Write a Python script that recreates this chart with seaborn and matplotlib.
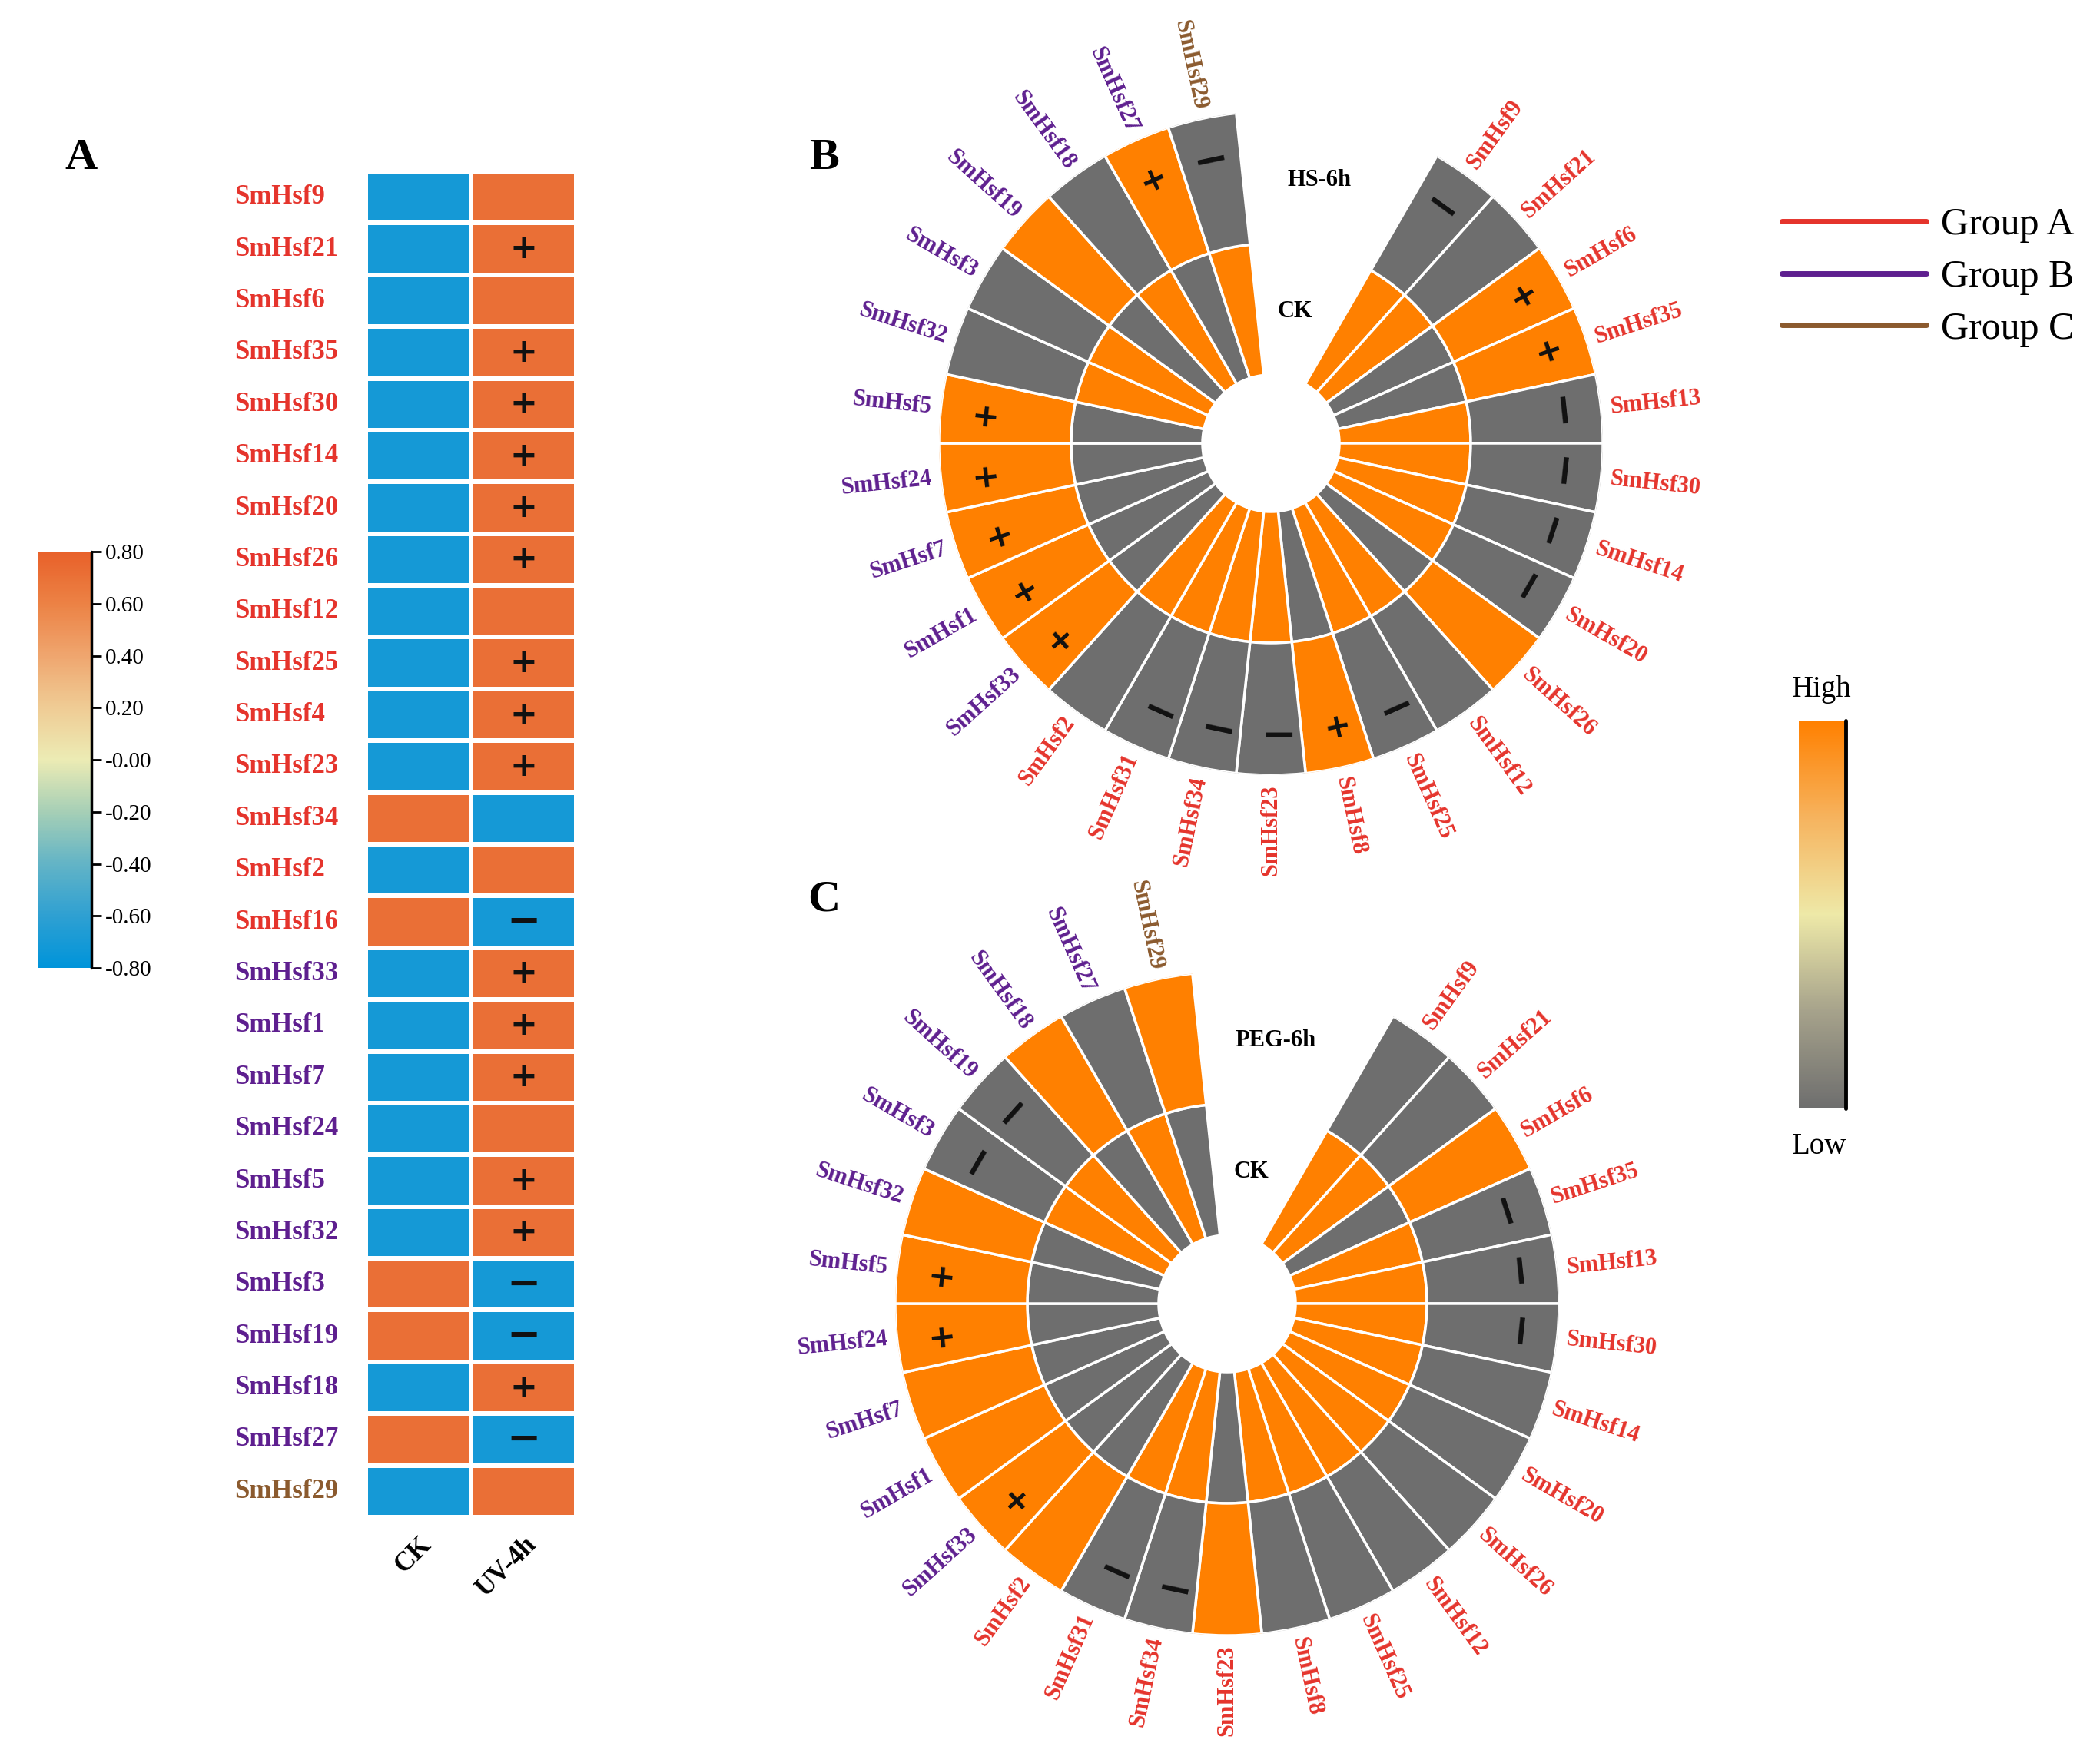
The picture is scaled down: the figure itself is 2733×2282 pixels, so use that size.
import numpy as np
import pandas as pd
import matplotlib
matplotlib.use('Agg')
import matplotlib.pyplot as plt
import seaborn as sns
from matplotlib.colors import LinearSegmentedColormap, Normalize
from matplotlib.cm import ScalarMappable
from matplotlib.lines import Line2D

sns.set_style('white')
plt.rcParams['font.family'] = ['Liberation Serif', 'DejaVu Serif']
plt.rcParams['text.color'] = 'black'
plt.rcParams['xtick.color'] = 'black'
plt.rcParams['ytick.color'] = 'black'

# ---------------- data ----------------
group_a = ['SmHsf9', 'SmHsf21', 'SmHsf6', 'SmHsf35', 'SmHsf13', 'SmHsf30', 'SmHsf14',
           'SmHsf20', 'SmHsf26', 'SmHsf12', 'SmHsf25', 'SmHsf4', 'SmHsf8', 'SmHsf23',
           'SmHsf34', 'SmHsf31', 'SmHsf2', 'SmHsf16']
group_b = ['SmHsf33', 'SmHsf1', 'SmHsf7', 'SmHsf24', 'SmHsf5', 'SmHsf32', 'SmHsf3',
           'SmHsf19', 'SmHsf18', 'SmHsf27']
group_c = ['SmHsf29']

# panel A: UV-4h, row scaled
uv_genes = ['SmHsf9', 'SmHsf21', 'SmHsf6', 'SmHsf35', 'SmHsf30', 'SmHsf14', 'SmHsf20',
            'SmHsf26', 'SmHsf12', 'SmHsf25', 'SmHsf4', 'SmHsf23', 'SmHsf34', 'SmHsf2',
            'SmHsf16', 'SmHsf33', 'SmHsf1', 'SmHsf7', 'SmHsf24', 'SmHsf5', 'SmHsf32',
            'SmHsf3', 'SmHsf19', 'SmHsf18', 'SmHsf27', 'SmHsf29']
uv_ck = [-0.71, -0.71, -0.71, -0.71, -0.71, -0.71, -0.71, -0.71, -0.71, -0.71, -0.71, -0.71,
         0.71, -0.71, 0.71, -0.71, -0.71, -0.71, -0.71, -0.71, -0.71, 0.71, 0.71, -0.71,
         0.71, -0.71]
uv_4h = [0.71, 0.71, 0.71, 0.71, 0.71, 0.71, 0.71, 0.71, 0.71, 0.71, 0.71, 0.71,
         -0.71, 0.71, -0.71, 0.71, 0.71, 0.71, 0.71, 0.71, 0.71, -0.71, -0.71, 0.71,
         -0.71, 0.71]
uv_sig = ['', '+', '', '+', '+', '+', '+', '+', '', '+', '+', '+',
          '', '', '\u2212', '+', '+', '+', '', '+', '+', '\u2212', '\u2212', '+',
          '\u2212', '']

# panels B and C: circular heatmaps (clockwise from the gap)
ring_genes = ['SmHsf9', 'SmHsf21', 'SmHsf6', 'SmHsf35', 'SmHsf13', 'SmHsf30', 'SmHsf14',
              'SmHsf20', 'SmHsf26', 'SmHsf12', 'SmHsf25', 'SmHsf8', 'SmHsf23', 'SmHsf34',
              'SmHsf31', 'SmHsf2', 'SmHsf33', 'SmHsf1', 'SmHsf7', 'SmHsf24', 'SmHsf5',
              'SmHsf32', 'SmHsf3', 'SmHsf19', 'SmHsf18', 'SmHsf27', 'SmHsf29']
hs_6h = [-1, -1, 1, 1, -1, -1, -1, -1, 1, -1, -1, 1, -1, -1,
         -1, -1, 1, 1, 1, 1, 1, -1, -1, 1, -1, 1, -1]
hs_ck = [-v for v in hs_6h]
hs_sig = ['\u2212', '', '+', '+', '\u2212', '\u2212', '\u2212', '\u2212', '', '', '\u2212', '+',
          '\u2212', '\u2212', '\u2212', '', '+', '+', '+', '+', '+', '', '', '', '', '+', '\u2212']
peg_6h = [-1, -1, 1, -1, -1, -1, -1, -1, -1, -1, -1, -1, 1, -1,
          -1, 1, 1, 1, 1, 1, 1, 1, -1, -1, 1, -1, 1]
peg_ck = [-v for v in peg_6h]
peg_sig = ['', '', '', '\u2212', '\u2212', '\u2212', '', '', '', '', '', '', '', '\u2212',
           '\u2212', '', '+', '', '', '+', '+', '', '\u2212', '\u2212', '', '', '']

group_names = ['Group A', 'Group B', 'Group C']
group_colors = ['#E5342C', '#5E1F8F', '#8B5A2E']

gcol = {}
for g in group_a:
    gcol[g] = group_colors[0]
for g in group_b:
    gcol[g] = group_colors[1]
for g in group_c:
    gcol[g] = group_colors[2]

cmap_a = LinearSegmentedColormap.from_list(
    'uv', ['#0094DA', '#2FA0D2', '#63B4C6', '#A6CFB6', '#ECEBB4',
           '#EFCC95', '#EFA66F', '#EC8245', '#E8612A'])
cmap_ring = LinearSegmentedColormap.from_list(
    'ring', ['#6E6E6E', '#A6A28B', '#EEE9A8', '#F6B35E', '#FF8000'])

W, H = 2733, 2282
fig = plt.figure(figsize=(W / 100, H / 100), dpi=100)


def fr(x0, y0, x1, y1):
    return [x0 / W, 1 - y1 / H, (x1 - x0) / W, (y1 - y0) / H]


# ---------------- panel A ----------------
ax_a = fig.add_axes(fr(476, 223, 750, 1975))
cax_a = fig.add_axes(fr(49, 718, 119, 1260))
df_a = pd.DataFrame({'CK': uv_ck, 'UV-4h': uv_4h}, index=uv_genes)
ann_a = pd.DataFrame({'CK': [''] * len(uv_genes), 'UV-4h': uv_sig}, index=uv_genes)
sns.heatmap(df_a, ax=ax_a, cmap=cmap_a, vmin=-0.8, vmax=0.8, linewidths=3,
            linecolor='white', annot=ann_a, fmt='', cbar_ax=cax_a,
            annot_kws=dict(color='#111111', fontsize=31, fontweight='bold',
                           family='DejaVu Sans'))
for t in ax_a.texts:
    if t.get_text() == '\u2212':
        t.set_fontsize(38)
ax_a.set_yticks(np.arange(len(uv_genes)) + 0.5)
ax_a.set_yticklabels(uv_genes, rotation=0, fontsize=25, fontweight='bold')
for lbl, g in zip(ax_a.get_yticklabels(), uv_genes):
    lbl.set_color(gcol[g])
    lbl.set_ha('left')
ax_a.tick_params(axis='y', length=0, pad=123)
ax_a.set_xticklabels(['CK', 'UV-4h'], rotation=45, ha='right', rotation_mode='anchor',
                     fontsize=25, fontweight='bold', color='black')
ax_a.tick_params(axis='x', length=0, pad=14)
ax_a.set_xlabel('')
ax_a.set_ylabel('')

cbar = ax_a.collections[0].colorbar
ticks = [0.8, 0.6, 0.4, 0.2, 0.0, -0.2, -0.4, -0.6, -0.8]
cbar.set_ticks(ticks)
cbar.set_ticklabels(['0.80', '0.60', '0.40', '0.20', '-0.00', '-0.20', '-0.40', '-0.60', '-0.80'])
cbar.ax.tick_params(labelsize=21, length=9, width=2, color='black', labelcolor='black',
                    pad=4, right=True)
cbar.outline.set_visible(False)
cbar.ax.plot([1, 1], [0, 1], transform=cbar.ax.transAxes, color='black', lw=2.5,
             clip_on=False)


# ---------------- panels B and C ----------------
def ring_panel(cx, cy, ck, treat, sig, treat_name):
    R = 432
    ax = fig.add_axes(fr(cx - R, cy - R, cx + R, cy + R), projection='polar')
    n = len(ring_genes)
    theta = np.deg2rad(54 - 12 * np.arange(n))
    width = np.deg2rad(12)
    norm = Normalize(-1, 1)
    ax.bar(theta, 171, width=width, bottom=89, color=cmap_ring(norm(np.array(ck))),
           edgecolor='white', linewidth=2.5)
    ax.bar(theta, 172, width=width, bottom=260, color=cmap_ring(norm(np.array(treat))),
           edgecolor='white', linewidth=2.5)
    ax.set_ylim(0, R)
    ax.set_axis_off()
    for t, g, s in zip(theta, ring_genes, sig):
        deg = np.rad2deg(t)
        if -90 < deg < 90:
            rot, ha = deg, 'left'
        else:
            rot, ha = deg + 180, 'right'
        ax.text(t, 444, g, rotation=rot, rotation_mode='anchor', ha=ha, va='center',
                fontsize=22, fontweight='bold', color=gcol[g], clip_on=False)
        if s:
            fs = 40 if s == '\u2212' else 30
            ax.text(t, 375, s, rotation=deg - 90, rotation_mode='anchor', ha='center',
                    va='center', fontsize=fs, fontweight='bold', family='DejaVu Sans',
                    color='#111111')
    ax.text(np.deg2rad(79.6), 348, treat_name, ha='center', va='center', fontsize=22,
            fontweight='bold', color='black')
    ax.text(np.deg2rad(79.6), 174, 'CK', ha='center', va='center', fontsize=22,
            fontweight='bold', color='black')
    return ax


ring_panel(1654, 577, hs_ck, hs_6h, hs_sig, 'HS-6h')
ring_panel(1597, 1697, peg_ck, peg_6h, peg_sig, 'PEG-6h')

# group legend
handles = [Line2D([], [], color=c, lw=5) for c in group_colors]
fig.legend(handles, group_names, loc='upper left', bbox_to_anchor=(2299 / W, 1 - 250 / H),
           frameon=False, fontsize=36, handlelength=3.75, handletextpad=0.4,
           labelspacing=0.42, borderaxespad=0, labelcolor='black')

# High / Low colour bar
cax_r = fig.add_axes(fr(2341, 938, 2402, 1443))
cb_r = fig.colorbar(ScalarMappable(norm=Normalize(-1, 1), cmap=cmap_ring), cax=cax_r)
cb_r.set_ticks([])
cb_r.outline.set_visible(False)
cax_r.plot([1, 1], [0, 1], transform=cax_r.transAxes, color='black', lw=3.5, clip_on=False)
fig.text(2371 / W, 1 - 898 / H, 'High', ha='center', va='center', fontsize=28, color='black')
fig.text(2368 / W, 1 - 1492 / H, 'Low', ha='center', va='center', fontsize=28, color='black')

# panel letters
for letter, x, y in [('A', 105, 206), ('B', 1072, 206), ('C', 1072, 1171)]:
    fig.text(x / W, 1 - y / H, letter, ha='center', va='center', fontsize=42,
             fontweight='bold', color='black')

fig.savefig('out.png', dpi=100)
